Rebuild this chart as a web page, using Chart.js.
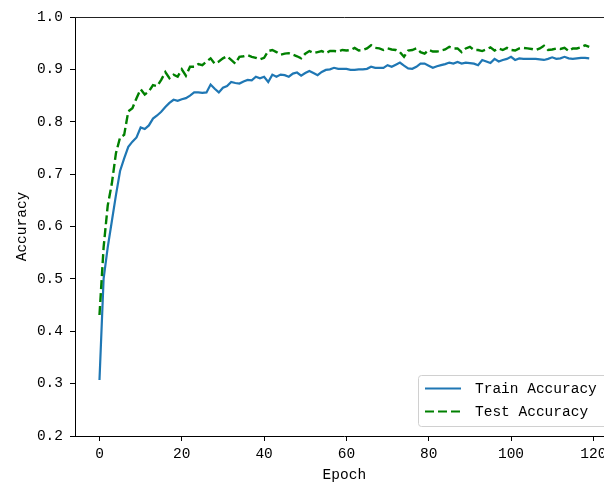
<!DOCTYPE html>
<html>
<head>
<meta charset="utf-8">
<script src="https://cdn.jsdelivr.net/npm/chart.js@4.4.1/dist/chart.umd.min.js"></script>
<style>
  html, body { margin: 0; padding: 0; overflow: hidden; background: #fff; }
  #wrap { width: 620px; height: 484px; }
</style>
</head>
<body>
<div id="wrap"><canvas id="chart" width="620" height="484"></canvas></div>
<script>
// accuracy per epoch
const trainAcc = [
  0.307, 0.500, 0.560, 0.610, 0.660, 0.706, 0.730, 0.752, 0.762, 0.770,
  0.789, 0.786, 0.793, 0.806, 0.812, 0.819, 0.828, 0.836, 0.842, 0.840,
  0.843, 0.845, 0.850, 0.856, 0.856, 0.855, 0.856, 0.871, 0.863, 0.856,
  0.865, 0.868, 0.876, 0.874, 0.873, 0.877, 0.880, 0.879, 0.886, 0.883,
  0.886, 0.876, 0.890, 0.886, 0.890, 0.889, 0.886, 0.892, 0.894, 0.888,
  0.893, 0.897, 0.893, 0.889, 0.895, 0.899, 0.900, 0.903, 0.901, 0.901,
  0.901, 0.899, 0.899, 0.900, 0.900, 0.901, 0.905, 0.903, 0.903, 0.903,
  0.908, 0.905, 0.909, 0.913, 0.907, 0.902, 0.901, 0.905, 0.911, 0.911,
  0.907, 0.903, 0.906, 0.908, 0.910, 0.913, 0.911, 0.914, 0.911, 0.913,
  0.912, 0.911, 0.908, 0.918, 0.915, 0.912, 0.920, 0.915, 0.918, 0.920,
  0.924, 0.918, 0.921, 0.920, 0.920, 0.920, 0.920, 0.919, 0.918, 0.920,
  0.923, 0.920, 0.921, 0.924, 0.921, 0.920, 0.921, 0.922, 0.922, 0.921
];
const testAcc = [
  0.431, 0.560, 0.640, 0.682, 0.740, 0.770, 0.775, 0.820, 0.826, 0.845,
  0.862, 0.852, 0.858, 0.870, 0.868, 0.880, 0.895, 0.883, 0.890, 0.886,
  0.900, 0.888, 0.905, 0.905, 0.910, 0.908, 0.915, 0.921, 0.911, 0.915,
  0.921, 0.925, 0.918, 0.911, 0.924, 0.925, 0.927, 0.924, 0.922, 0.919,
  0.922, 0.935, 0.937, 0.933, 0.928, 0.930, 0.931, 0.928, 0.925, 0.921,
  0.930, 0.935, 0.931, 0.933, 0.935, 0.931, 0.935, 0.935, 0.934, 0.937,
  0.936, 0.937, 0.941, 0.936, 0.937, 0.940, 0.946, 0.941, 0.940, 0.937,
  0.940, 0.938, 0.937, 0.933, 0.924, 0.936, 0.937, 0.940, 0.933, 0.930,
  0.937, 0.934, 0.934, 0.936, 0.938, 0.943, 0.940, 0.940, 0.933, 0.940,
  0.943, 0.937, 0.937, 0.935, 0.938, 0.942, 0.936, 0.940, 0.937, 0.941,
  0.937, 0.936, 0.940, 0.941, 0.940, 0.939, 0.937, 0.940, 0.945, 0.937,
  0.938, 0.940, 0.939, 0.941, 0.935, 0.940, 0.940, 0.942, 0.946, 0.943
];
const epochs = trainAcc.map((_, i) => i);
const xTicks = [0, 20, 40, 60, 80, 100, 120];
const yTicks = [0.2, 0.3, 0.4, 0.5, 0.6, 0.7, 0.8, 0.9, 1.0];
const seriesNames = ['Train Accuracy', 'Test Accuracy'];

const FONT = "'Liberation Mono', 'DejaVu Sans Mono', monospace";
Chart.defaults.font.family = FONT;
Chart.defaults.font.size = 14.5;
Chart.defaults.color = '#000';

const blue = '#1f77b4';
const green = '#008000';

// top spine + legend box in the lower right corner
const extras = {
  id: 'extras',
  afterDraw(chart) {
    const { ctx, chartArea: a } = chart;
    ctx.save();
    ctx.strokeStyle = '#222';
    ctx.lineWidth = 1;
    ctx.beginPath();
    ctx.moveTo(a.left, Math.round(a.top) + 0.5);
    ctx.lineTo(a.right, Math.round(a.top) + 0.5);
    ctx.stroke();

    const bx = 418.5, by = 375.5, bw = 200, bh = 51;
    ctx.fillStyle = 'rgba(255,255,255,0.85)';
    ctx.strokeStyle = '#d0d0d0';
    ctx.beginPath();
    ctx.roundRect(bx, by, bw, bh, 3);
    ctx.fill();
    ctx.stroke();

    const rows = [
      { y: 388.5, color: blue, dash: [] },
      { y: 411.5, color: green, dash: [9, 4] }
    ];
    ctx.font = '14.5px ' + FONT;
    ctx.textBaseline = 'middle';
    rows.forEach((r, i) => {
      ctx.strokeStyle = r.color;
      ctx.lineWidth = 2.2;
      ctx.setLineDash(r.dash);
      ctx.beginPath();
      ctx.moveTo(425, r.y);
      ctx.lineTo(461, r.y);
      ctx.stroke();
      ctx.setLineDash([]);
      ctx.fillStyle = '#000';
      ctx.fillText(seriesNames[i], 475, r.y + 1);
    });
    ctx.restore();
  }
};

new Chart(document.getElementById('chart'), {
  type: 'line',
  data: {
    datasets: [
      {
        label: seriesNames[0],
        data: epochs.map((e, i) => ({ x: e, y: trainAcc[i] })),
        borderColor: blue,
        borderWidth: 2.2,
        pointRadius: 0,
        tension: 0,
        order: 1
      },
      {
        label: seriesNames[1],
        data: epochs.map((e, i) => ({ x: e, y: testAcc[i] })),
        borderColor: green,
        borderWidth: 2.4,
        borderDash: [9, 4],
        pointRadius: 0,
        tension: 0,
        order: 0
      }
    ]
  },
  options: {
    responsive: false,
    animation: false,
    layout: { padding: { left: 0, top: 17, right: 6.3, bottom: 0 } },
    plugins: { legend: { display: false }, tooltip: { enabled: false } },
    scales: {
      x: {
        type: 'linear',
        min: -5.95,
        max: 124.95,
        afterBuildTicks: s => { s.ticks = xTicks.map(v => ({ value: v })); },
        afterFit: s => { s.height = 48; s.paddingLeft = 0; s.paddingRight = 0; },
        grid: { drawOnChartArea: false, tickLength: 5, color: '#000', lineWidth: 1 },
        border: { display: true, color: '#000', width: 1 },
        ticks: { padding: 4, maxRotation: 0, callback: v => String(v) },
        title: { display: true, text: 'Epoch', padding: { top: 0, bottom: 0 } }
      },
      y: {
        min: 0.2,
        max: 1.0,
        afterBuildTicks: s => { s.ticks = yTicks.map(v => ({ value: v })); },
        afterFit: s => { s.width = 75; s.paddingTop = 0; s.paddingBottom = 0; },
        grid: { drawOnChartArea: false, tickLength: 5, color: '#000', lineWidth: 1 },
        border: { display: true, color: '#000', width: 1 },
        ticks: { padding: 7, callback: v => v.toFixed(1) },
        title: { display: true, text: 'Accuracy', padding: { top: 13, bottom: 0 } }
      }
    }
  },
  plugins: [extras]
});
</script>
</body>
</html>
